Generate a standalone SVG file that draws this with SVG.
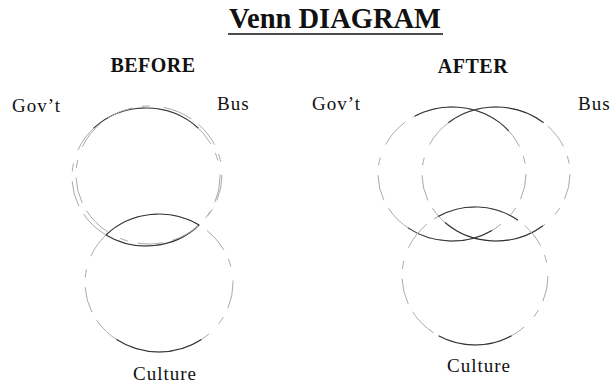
<svg xmlns="http://www.w3.org/2000/svg" width="610" height="385" viewBox="0 0 610 385">
<style>
.bg{fill:#fff}
.title{font-family:"Liberation Serif","Times New Roman",serif;font-weight:bold;font-size:28.5px;fill:#111}
.head{font-family:"Liberation Serif","Times New Roman",serif;font-weight:bold;font-size:20px;letter-spacing:0.5px;fill:#111}
.lbl{font-family:"Liberation Serif","Times New Roman",serif;font-size:19px;letter-spacing:1px;fill:#111}
.set{fill:none;stroke:#aaa;stroke-width:1;stroke-dasharray:26 10 8 14 30 9}
.arc{fill:none;stroke:#333;stroke-width:1.1}
</style>
<rect class="bg" x="0" y="0" width="610" height="385"/>
<g id="title">
<text class="title" x="335" y="28" text-anchor="middle">Venn DIAGRAM</text>
<line x1="228" y1="34" x2="443" y2="34" stroke="#111" stroke-width="1.5"/>
</g>
<g id="before">
<text class="head" x="153" y="72" text-anchor="middle">BEFORE</text>
<g id="before-govt">
<ellipse class="set" cx="146" cy="177" rx="74" ry="69"/>
<path class="arc" d="M93.7,128.2 A74,69 0 0 1 198.3,128.2"/>
<path class="arc" d="M105.9,235 A74,69 0 0 0 199.2,225"/>
<text class="lbl" x="12" y="112">Gov’t</text>
</g>
<g id="before-bus">
<ellipse class="set" cx="149" cy="175" rx="73" ry="69"/>
<text class="lbl" x="217" y="110">Bus</text>
</g>
<g id="before-culture">
<ellipse class="set" cx="159" cy="283" rx="74" ry="69"/>
<path class="arc" d="M105.9,235 A74,69 0 0 1 199.2,225"/>
<path class="arc" d="M201.4,339.5 A74,69 0 0 1 116.6,339.5"/>
<text class="lbl" x="133" y="380">Culture</text>
</g>
</g>
<g id="after">
<text class="head" x="473" y="73" text-anchor="middle">AFTER</text>
<g id="after-govt">
<ellipse class="set" cx="452" cy="174" rx="74" ry="67"/>
<path class="arc" d="M415,116 A74,67 0 0 1 508.7,130.9"/>
<path class="arc" d="M408,227.9 A74,67 0 0 0 492,230.4"/>
<text class="lbl" x="312" y="110">Gov’t</text>
</g>
<g id="after-bus">
<ellipse class="set" cx="496" cy="174" rx="74" ry="67"/>
<path class="arc" d="M448.4,122.7 A74,67 0 0 1 543.6,122.7"/>
<path class="arc" d="M445,222.5 A74,67 0 0 0 543,225.8"/>
<text class="lbl" x="578" y="110">Bus</text>
</g>
<g id="after-culture">
<ellipse class="set" cx="475" cy="276" rx="73" ry="69"/>
<path class="arc" d="M438,216.5 A73,69 0 0 1 518,220.2"/>
<path class="arc" d="M511.5,335.8 A73,69 0 0 1 438.5,335.8"/>
<text class="lbl" x="447" y="372">Culture</text>
</g>
</g>
<g id="connectors"></g>
</svg>
